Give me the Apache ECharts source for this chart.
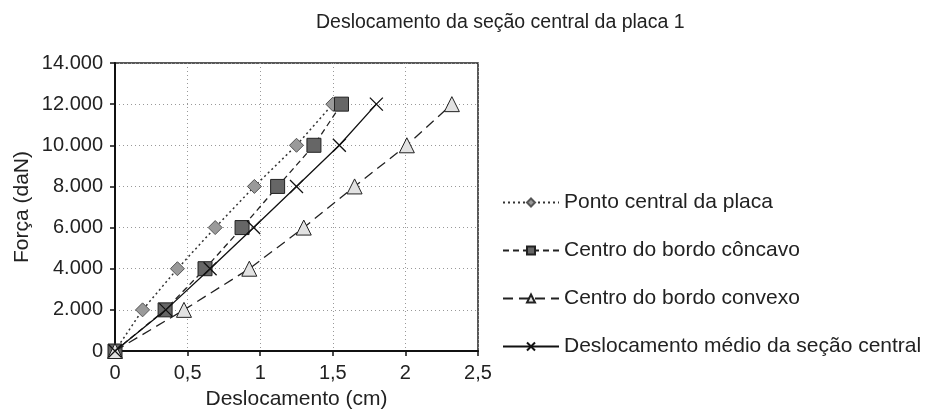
<!DOCTYPE html>
<html>
<head>
<meta charset="utf-8">
<script src="https://cdn.jsdelivr.net/npm/echarts@6/dist/echarts.min.js"></script>
<style>html,body{margin:0;padding:0;background:#fff}#c{width:926px;height:416px}</style>
</head>
<body>
<div id="c"></div>
<script>
const forceLevels = [0, 2000, 4000, 6000, 8000, 10000, 12000];
const pontoCentral = [0, 0.19, 0.43, 0.69, 0.96, 1.25, 1.50];
const bordoConcavo = [0, 0.345, 0.62, 0.875, 1.12, 1.37, 1.56];
const bordoConvexo = [0, 0.475, 0.925, 1.30, 1.65, 2.01, 2.32];
const deslocMedio = [0, 0.35, 0.655, 0.955, 1.25, 1.545, 1.80];
const seriesNames = ['Ponto central da placa', 'Centro do bordo côncavo', 'Centro do bordo convexo', 'Deslocamento médio da seção central'];
const xTicks = {min: 0, max: 2.5, interval: 0.5};
const yTicks = {min: 0, max: 14000, interval: 2000};

const FONT = '"Liberation Sans", Arial, sans-serif';
const TXT = '#222';
const pairs = xs => xs.map((x, i) => [x, forceLevels[i]]);

const chart = echarts.init(document.getElementById('c'), null, {renderer: 'canvas'});
chart.setOption({
  animation: false,
  backgroundColor: '#fff',
  textStyle: {fontFamily: FONT, color: TXT},
  title: {
    text: 'Deslocamento da seção central da placa 1',
    left: 311, top: 8,
    textStyle: {fontFamily: FONT, fontSize: 19.5, fontWeight: 'normal', color: TXT}
  },
  grid: {left: 115, right: 448, top: 63, bottom: 65, show: true, borderColor: '#222', borderWidth: 1.5, backgroundColor: 'transparent'},
  legend: {
    orient: 'vertical', left: 497, top: 187,
    itemWidth: 56, itemHeight: 10, itemGap: 27,
    textStyle: {fontFamily: FONT, fontSize: 21, color: TXT, lineHeight: 21},
    data: seriesNames
  },
  xAxis: {
    type: 'value', min: xTicks.min, max: xTicks.max, interval: xTicks.interval,
    name: 'Deslocamento (cm)', nameLocation: 'middle', nameGap: 38,
    nameTextStyle: {fontFamily: FONT, fontSize: 21, color: TXT},
    axisLine: {show: true, onZero: false, lineStyle: {color: '#111', width: 2}},
    axisTick: {show: true, length: 5, lineStyle: {color: '#111', width: 1.5}},
    axisLabel: {fontFamily: FONT, fontSize: 20, color: TXT, margin: 12, formatter: v => String(v).replace('.', ',')},
    splitLine: {show: true, lineStyle: {color: '#999', width: 1, type: [1, 3]}}
  },
  yAxis: {
    type: 'value', min: yTicks.min, max: yTicks.max, interval: yTicks.interval,
    name: 'Força (daN)', nameLocation: 'middle', nameGap: 82, nameRotate: 90,
    nameTextStyle: {fontFamily: FONT, fontSize: 21, color: TXT},
    axisLine: {show: true, lineStyle: {color: '#111', width: 2}},
    axisTick: {show: true, length: 5, lineStyle: {color: '#111', width: 1.5}},
    axisLabel: {fontFamily: FONT, fontSize: 20, color: TXT, margin: 12, formatter: v => String(v).replace(/\B(?=(\d{3})+(?!\d))/g, '.')},
    splitLine: {show: true, lineStyle: {color: '#999', width: 1, type: [1, 3]}}
  },
  series: [
    {
      name: seriesNames[0], type: 'line', data: pairs(pontoCentral), z: 3,
      symbol: 'diamond', symbolSize: 14,
      lineStyle: {color: '#333', width: 1.5, type: [2, 3]},
      itemStyle: {color: '#9a9a9a', borderColor: '#555', borderWidth: 1}
    },
    {
      name: seriesNames[1], type: 'line', data: pairs(bordoConcavo), z: 4,
      symbol: 'rect', symbolSize: 14,
      lineStyle: {color: '#222', width: 1.3, type: [6, 4]},
      itemStyle: {color: '#666', borderColor: '#222', borderWidth: 1}
    },
    {
      name: seriesNames[2], type: 'line', data: pairs(bordoConvexo), z: 5,
      symbol: 'triangle', symbolSize: 15,
      lineStyle: {color: '#222', width: 1.3, type: [10, 6]},
      itemStyle: {color: '#e2e2e2', borderColor: '#222', borderWidth: 1}
    },
    {
      name: seriesNames[3], type: 'line', data: pairs(deslocMedio), z: 6,
      symbol: 'path://M0,0L10,10M10,0L0,10', symbolSize: 13,
      lineStyle: {color: '#111', width: 1.3, type: 'solid'},
      itemStyle: {color: 'rgba(0,0,0,0)', borderColor: '#111', borderWidth: 1.3}
    }
  ]
});
</script>
</body>
</html>
